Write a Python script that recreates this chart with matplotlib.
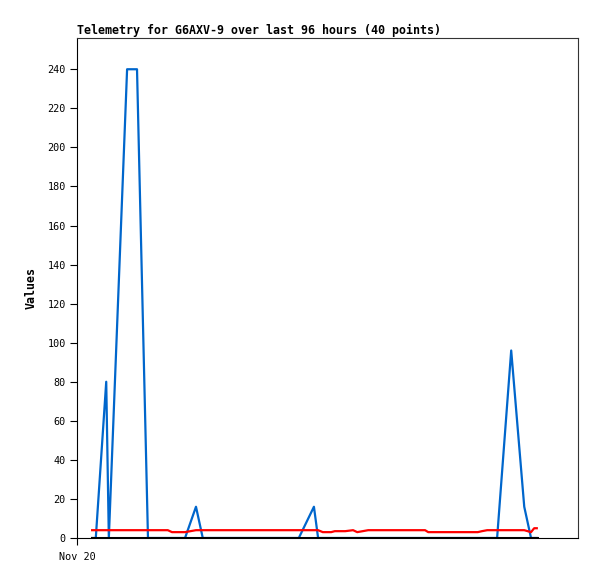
#!/usr/bin/env python
"""Telemetry plot for G6AXV-9, last 96 hours."""
import matplotlib
matplotlib.use("Agg")
import matplotlib.pyplot as plt

TITLE = "Telemetry for G6AXV-9 over last 96 hours (40 points)"

# hours since Nov 20 00:00
HOURS = [2.9, 3.6, 5.6, 6.1, 9.6, 11.5, 13.6, 15.9, 17.4, 18.2,
         20.7, 22.8, 24.1, 29.3, 35.1, 37.9, 42.5, 45.4, 46.2, 47.1,
         48.7, 49.4, 51.4, 52.9, 53.7, 55.8, 60.9, 66.7, 67.3, 69.6,
         72.4, 76.8, 77.6, 78.6, 80.5, 83.2, 85.7, 87.0, 87.6, 88.1]

BLUE = [0, 0, 80, 0, 240, 240, 0, 0, 0, 0,
        0, 16, 0, 0, 0, 0, 0, 16, 0, 0,
        0, 0, 0, 0, 0, 0, 0, 0, 0, 0,
        0, 0, 0, 0, 0, 96, 16, 0, 0, 0]

RED = [4, 4, 4, 4, 4, 4, 4, 4, 4, 3,
       3, 4, 4, 4, 4, 4, 4, 4, 4, 3,
       3, 3.5, 3.5, 4, 3, 4, 4, 4, 3, 3,
       3, 3, 3.5, 4, 4, 4, 4, 3, 5, 5]

BLACK = [0] * 40

XTICKS = [0]
XTICK_LABELS = ["Nov 20"]

W, H = 597, 579
fig = plt.figure(figsize=(W / 100, H / 100), dpi=100)
ax = fig.add_axes([77 / W, (H - 538) / H, (578 - 77) / W, (538 - 38) / H])

ax.plot(HOURS, BLUE, color="#0066cc", linewidth=1.6, zorder=3)
ax.plot(HOURS, RED, color="#ff0000", linewidth=1.6, zorder=4)
ax.plot(HOURS, BLACK, color="black", linewidth=2.2, zorder=5)

ax.set_xlim(0, 96)
ax.set_ylim(0, 256)
ax.set_yticks(range(0, 241, 20))
ax.set_xticks(XTICKS)
ax.set_xticklabels(XTICK_LABELS)

mono = "DejaVu Sans Mono"
for lbl in ax.get_yticklabels() + ax.get_xticklabels():
    lbl.set_family(mono)
    lbl.set_fontsize(7.3)
ax.tick_params(axis="y", length=5, width=0.8, pad=3)
ax.tick_params(axis="x", length=5, width=0.8, pad=5)

ax.set_ylabel("Values", family=mono, fontsize=8.4, fontweight="bold", labelpad=7)
ax.set_title(TITLE, family=mono, fontsize=8.4, fontweight="bold", loc="left", pad=3)

for side in ("top", "right"):
    ax.spines[side].set_color("#333333")
    ax.spines[side].set_linewidth(0.8)
for side in ("left", "bottom"):
    ax.spines[side].set_color("black")
    ax.spines[side].set_linewidth(0.8)

fig.savefig("out.png", dpi=100)
